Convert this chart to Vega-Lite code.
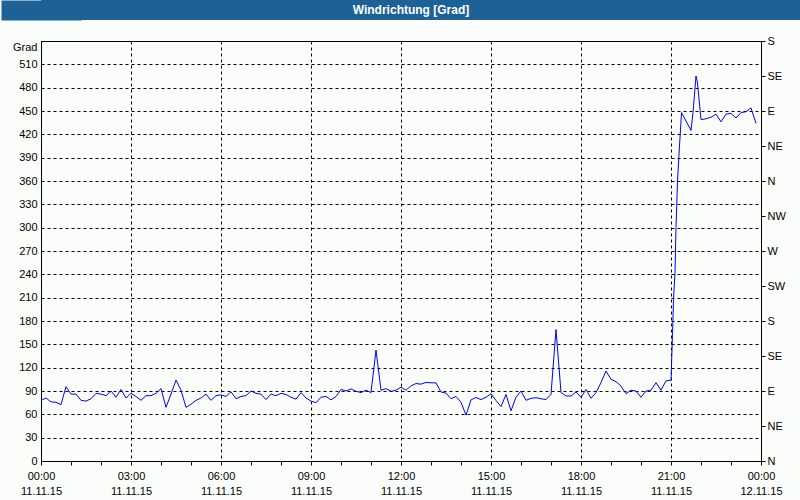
{
  "$schema": "https://vega.github.io/schema/vega-lite/v6.json",
  "background": "#FAFDFA",
  "padding": 0,
  "spacing": 14,
  "columns": 1,
  "align": "none",
  "config": {
    "view": {"stroke": null},
    "axis": {"labelFont": "Liberation Sans", "labelFontSize": 11, "labelColor": "black"}
  },
  "concat": [
    {
      "width": 760,
      "height": 20,
      "view": {"fill": "#1D6296", "stroke": null},
      "data": {"values": [{"label": "Windrichtung [Grad]", "pos": 0}]},
      "mark": {"type": "text", "color": "white", "font": "Liberation Sans", "fontSize": 12, "fontWeight": "bold", "dx": -10},
      "encoding": {
        "text": {"field": "label", "type": "nominal"},
        "y": {
          "field": "pos",
          "type": "quantitative",
          "scale": {"domain": [-1, 1]},
          "axis": {"orient": "left", "title": null, "labels": false, "ticks": false, "grid": false, "domain": true, "domainColor": "#1D6296", "domainWidth": 80, "domainCap": "butt"}
        }
      }
    },
    {
      "width": 720,
      "height": 420,
      "view": {"stroke": "black", "strokeWidth": 1},
      "data": {"values": [
        {"min": 0, "v": 78}, {"min": 10, "v": 81}, {"min": 20, "v": 76}, {"min": 30, "v": 75.5},
        {"min": 40, "v": 72.5}, {"min": 50, "v": 95.6}, {"min": 60, "v": 86}, {"min": 70, "v": 86},
        {"min": 80, "v": 78}, {"min": 90, "v": 77}, {"min": 100, "v": 80}, {"min": 110, "v": 87},
        {"min": 120, "v": 86}, {"min": 130, "v": 84}, {"min": 140, "v": 90}, {"min": 150, "v": 82},
        {"min": 160, "v": 92}, {"min": 170, "v": 81}, {"min": 180, "v": 87}, {"min": 190, "v": 83},
        {"min": 200, "v": 78}, {"min": 210, "v": 84}, {"min": 220, "v": 84}, {"min": 230, "v": 87},
        {"min": 240, "v": 93}, {"min": 250, "v": 69}, {"min": 260, "v": 86}, {"min": 270, "v": 104},
        {"min": 280, "v": 91}, {"min": 290, "v": 69}, {"min": 300, "v": 73}, {"min": 310, "v": 78},
        {"min": 320, "v": 81}, {"min": 330, "v": 86}, {"min": 340, "v": 78}, {"min": 350, "v": 84},
        {"min": 360, "v": 85}, {"min": 370, "v": 83}, {"min": 380, "v": 89}, {"min": 390, "v": 80},
        {"min": 400, "v": 83}, {"min": 410, "v": 84}, {"min": 420, "v": 90}, {"min": 430, "v": 87},
        {"min": 440, "v": 86}, {"min": 450, "v": 79}, {"min": 460, "v": 86}, {"min": 470, "v": 84},
        {"min": 480, "v": 87}, {"min": 490, "v": 85.6}, {"min": 500, "v": 82}, {"min": 510, "v": 79.5},
        {"min": 520, "v": 88}, {"min": 530, "v": 81}, {"min": 540, "v": 77}, {"min": 550, "v": 75},
        {"min": 560, "v": 82}, {"min": 570, "v": 83}, {"min": 580, "v": 78.6}, {"min": 590, "v": 83},
        {"min": 600, "v": 92}, {"min": 610, "v": 90}, {"min": 620, "v": 92.6}, {"min": 630, "v": 89.6},
        {"min": 640, "v": 88}, {"min": 650, "v": 91}, {"min": 660, "v": 88}, {"min": 670, "v": 142.6},
        {"min": 680, "v": 91}, {"min": 690, "v": 93}, {"min": 700, "v": 89.6}, {"min": 710, "v": 91},
        {"min": 720, "v": 95}, {"min": 730, "v": 91}, {"min": 740, "v": 96.6}, {"min": 750, "v": 99.6},
        {"min": 760, "v": 98.8}, {"min": 770, "v": 101}, {"min": 780, "v": 100.5}, {"min": 790, "v": 100.5},
        {"min": 800, "v": 88.7}, {"min": 810, "v": 87.4}, {"min": 820, "v": 80}, {"min": 830, "v": 83},
        {"min": 840, "v": 75.5}, {"min": 850, "v": 59}, {"min": 860, "v": 78.6}, {"min": 870, "v": 81.7},
        {"min": 880, "v": 79}, {"min": 890, "v": 82}, {"min": 900, "v": 86.5}, {"min": 910, "v": 77.7},
        {"min": 920, "v": 70}, {"min": 930, "v": 85.6}, {"min": 940, "v": 64.6}, {"min": 950, "v": 82},
        {"min": 960, "v": 90}, {"min": 970, "v": 78}, {"min": 980, "v": 80.6}, {"min": 990, "v": 81.4},
        {"min": 1000, "v": 80}, {"min": 1010, "v": 79}, {"min": 1020, "v": 85.7}, {"min": 1030, "v": 169},
        {"min": 1040, "v": 88}, {"min": 1050, "v": 83.6}, {"min": 1060, "v": 83.6}, {"min": 1070, "v": 88.7},
        {"min": 1080, "v": 82}, {"min": 1090, "v": 92}, {"min": 1100, "v": 80.6}, {"min": 1110, "v": 88},
        {"min": 1120, "v": 100.7}, {"min": 1130, "v": 115.7}, {"min": 1140, "v": 105}, {"min": 1150, "v": 102},
        {"min": 1160, "v": 96.4}, {"min": 1170, "v": 86.6}, {"min": 1180, "v": 91}, {"min": 1190, "v": 90},
        {"min": 1200, "v": 82}, {"min": 1210, "v": 90}, {"min": 1220, "v": 91}, {"min": 1230, "v": 100.7},
        {"min": 1240, "v": 91}, {"min": 1250, "v": 103}, {"min": 1260, "v": 104}, {"min": 1263, "v": 163},
        {"min": 1265, "v": 208}, {"min": 1268, "v": 242}, {"min": 1270, "v": 300}, {"min": 1273, "v": 360},
        {"min": 1277, "v": 405}, {"min": 1281, "v": 448}, {"min": 1300, "v": 425}, {"min": 1304, "v": 448},
        {"min": 1310, "v": 495}, {"min": 1313, "v": 486}, {"min": 1320, "v": 439}, {"min": 1330, "v": 440},
        {"min": 1340, "v": 442}, {"min": 1350, "v": 446}, {"min": 1360, "v": 436}, {"min": 1370, "v": 446},
        {"min": 1380, "v": 447}, {"min": 1390, "v": 441}, {"min": 1400, "v": 448}, {"min": 1410, "v": 449},
        {"min": 1420, "v": 454}, {"min": 1430, "v": 434}
      ]},
      "encoding": {
        "x": {
          "field": "min",
          "type": "quantitative",
          "scale": {"domain": [0, 1440], "nice": false, "zero": false},
          "axis": {
            "orient": "bottom",
            "title": null,
            "values": [0, 60, 120, 180, 240, 300, 360, 420, 480, 540, 600, 660, 720, 780, 840, 900, 960, 1020, 1080, 1140, 1200, 1260, 1320, 1380, 1440],
            "grid": true,
            "gridColor": "black",
            "gridDash": [3, 3],
            "gridWidth": 1,
            "gridOpacity": {"condition": {"test": "datum.value % 180 == 0", "value": 1}, "value": 0},
            "domain": false,
            "ticks": true,
            "tickSize": 4,
            "tickColor": "black",
            "labelExpr": "datum.value % 180 == 0 ? [(floor(datum.value / 60) % 24 < 10 ? '0' : '') + (floor(datum.value / 60) % 24) + ':00', datum.value == 1440 ? '12.11.15' : '11.11.15'] : ''",
            "labelFlush": false,
            "labelOverlap": false,
            "labelLineHeight": 15,
            "labelPadding": 5,
            "minExtent": 40
          }
        }
      },
      "layer": [
        {
          "mark": {"type": "line", "color": "#0000FF", "strokeWidth": 1},
          "encoding": {
            "y": {
              "field": "v",
              "type": "quantitative",
              "scale": {"domain": [0, 540], "nice": false, "zero": true},
              "axis": {
                "orient": "left",
                "title": null,
                "values": [0, 30, 60, 90, 120, 150, 180, 210, 240, 270, 300, 330, 360, 390, 420, 450, 480, 510, 540],
                "grid": true,
                "gridColor": "black",
                "gridDash": [3, 3],
                "gridWidth": 1,
                "domain": false,
                "ticks": false,
                "tickSize": 0,
                "labelPadding": 4,
                "labelExpr": "datum.value == 540 ? 'Grad' : datum.label",
                "labelBaseline": {"condition": {"test": "datum.value == 540", "value": "top"}, "value": "middle"},
                "labelOverlap": false,
                "minExtent": 40
              }
            }
          }
        },
        {
          "mark": {"type": "line", "strokeOpacity": 0},
          "encoding": {
            "y": {
              "field": "v",
              "type": "quantitative",
              "scale": {"domain": [0, 540], "nice": false, "zero": true},
              "axis": {
                "orient": "right",
                "title": null,
                "values": [0, 45, 90, 135, 180, 225, 270, 315, 360, 405, 450, 495, 540],
                "grid": false,
                "domain": false,
                "ticks": true,
                "tickSize": 4,
                "tickColor": "black",
                "labelPadding": 2,
                "labelExpr": "['N','NE','E','SE','S','SW','W','NW','N','NE','E','SE','S'][round(datum.value / 45)]",
                "labelOverlap": false,
                "minExtent": 40
              }
            }
          }
        }
      ],
      "resolve": {"axis": {"y": "independent"}}
    }
  ]
}
